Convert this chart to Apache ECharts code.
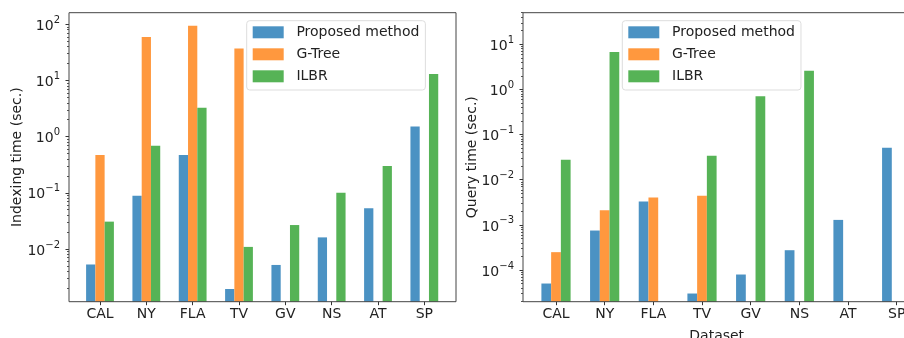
<!DOCTYPE html>
<html><head><meta charset="utf-8">
<script src="https://cdn.jsdelivr.net/npm/echarts@6/dist/echarts.min.js"></script>
<style>html,body{margin:0;padding:0;background:#fff;overflow:hidden}#c{width:904px;height:338px}</style>
</head><body><div id="c"></div><script>
// ---- data ----
const categories = ['CAL','NY','FLA','TV','GV','NS','AT','SP'];
const seriesNames = ['Proposed method','G-Tree','ILBR'];
const indexProposed = [0.0053, 0.089, 0.47, 0.00194, 0.0052, 0.0161, 0.053, 1.51];
const indexGTree    = [0.472, 59.5, 94.7, 36.9, null, null, null, null];
const indexILBR     = [0.0307, 0.69, 3.28, 0.0109, 0.0267, 0.1007, 0.30, 13.06];
const queryProposed = [5.03e-5, 7.5e-4, 3.3e-3, 3.02e-5, 7.96e-5, 2.75e-4, 1.29e-3, 0.051];
const queryGTree    = [2.49e-4, 2.12e-3, 4.05e-3, 4.4e-3, null, null, null, null];
const queryILBR     = [0.0277, 6.72, null, 0.0339, 0.711, 2.59, null, null];
const indexTicks = [1e-2, 1e-1, 1, 10, 100];
const queryTicks = [1e-4, 1e-3, 1e-2, 1e-1, 1, 10];
const indexRange = [0.001153, 160.9];
const queryRange = [1.99e-5, 50.1];

// ---- styles ----
const colors = ['#4b92c3', '#ff983e', '#56b356'];
const FONT = '"DejaVu Sans", sans-serif';
const TXT = '#222';

function minorTicks(range) {
  const out = [];
  const lo = Math.floor(Math.log10(range[0])), hi = Math.ceil(Math.log10(range[1]));
  for (let d = lo; d <= hi; d++) for (let m = 2; m <= 9; m++) {
    const v = m * Math.pow(10, d);
    if (v > range[0] && v < range[1]) out.push(v);
  }
  return out;
}
function fmt(v) {
  const e = Math.round(Math.log10(v));
  return '{b|10}{s|' + String(e).replace('-', '\u2212') + '}';
}

const panels = [
  {frameL: 69, frameR: 456, bandL: 76.83, bandW: 370.67, range: indexRange, ticks: indexTicks,
   data: [indexProposed, indexGTree, indexILBR], yName: 'Indexing time (sec.)', yNameX: 17, legendL: 246.7},
  {frameL: 523, frameR: 930, bandL: 531.67, bandW: 389.33, range: queryRange, ticks: queryTicks,
   data: [queryProposed, queryGTree, queryILBR], yName: 'Query time (sec.)', yNameX: 472, legendL: 622.3}
];
const plotTop = 12.7, plotH = 289;

const grid = [], xAxis = [], yAxis = [], series = [], legend = [], graphic = [];
panels.forEach((p, i) => {
  grid.push({left: p.bandL, top: plotTop, width: p.bandW, height: plotH, containLabel: false, outerBoundsMode: 'none'});
  xAxis.push({type: 'category', gridIndex: i, data: categories,
    axisLine: {show: false},
    axisTick: {show: true, alignWithLabel: true, length: 3.5, lineStyle: {color: '#333'}},
    axisLabel: {fontFamily: FONT, fontSize: 14, color: TXT, margin: 6}});
  const off = p.bandL - p.frameL;
  yAxis.push({type: 'log', gridIndex: i, position: 'left', min: p.range[0], max: p.range[1], startValue: p.range[0], offset: off,
    axisLine: {show: false}, splitLine: {show: false},
    axisTick: {show: true, length: 3.5, customValues: p.ticks, lineStyle: {color: '#333'}},
    axisLabel: {customValues: p.ticks, formatter: fmt, margin: 9, color: TXT,
      rich: {b: {fontFamily: FONT, fontSize: 14, lineHeight: 18, verticalAlign: 'bottom', color: TXT},
             s: {fontFamily: FONT, fontSize: 10, lineHeight: 10, verticalAlign: 'top', color: TXT}}}});
  yAxis.push({type: 'log', gridIndex: i, position: 'left', min: p.range[0], max: p.range[1], offset: off,
    axisLine: {show: false}, splitLine: {show: false},
    axisTick: {show: true, length: 2, customValues: minorTicks(p.range), lineStyle: {color: '#555'}},
    axisLabel: {show: false}});
  seriesNames.forEach((n, k) => {
    series.push({type: 'bar', name: n, xAxisIndex: i, yAxisIndex: 2 * i, data: p.data[k],
      barWidth: '20%', barGap: '0%', itemStyle: {color: colors[k]}, animation: false});
  });
  legend.push({orient: 'vertical', left: p.legendL, top: 20.7, data: seriesNames,
    itemWidth: 31, itemHeight: 12, itemGap: 8, icon: 'rect',
    padding: [4.6, 6, 6.7, 6], backgroundColor: '#fff', borderColor: '#ddd', borderWidth: 1, borderRadius: 3,
    textStyle: {fontFamily: FONT, fontSize: 14, color: TXT, lineHeight: 14, padding: [0, 0, 0, 7.7]}, selectedMode: false});
  graphic.push({type: 'rect', shape: {x: p.frameL, y: plotTop, width: p.frameR - p.frameL, height: plotH},
    style: {fill: 'none', stroke: '#444', lineWidth: 1}, silent: true, z: 10});
  graphic.push({type: 'text', x: p.yNameX, y: plotTop + plotH / 2, rotation: Math.PI / 2,
    style: {text: p.yName, fontFamily: FONT, fontSize: 14, fill: TXT, align: 'center', verticalAlign: 'middle'}});
});
graphic.push({type: 'text', x: 716.7, y: 329, style: {text: 'Dataset', fontFamily: FONT, fontSize: 14, fill: TXT, align: 'center', verticalAlign: 'top'}});

const chart = echarts.init(document.getElementById('c'), null, {renderer: 'canvas'});
chart.setOption({animation: false, color: colors, grid, xAxis, yAxis, series, legend, graphic});
</script></body></html>
